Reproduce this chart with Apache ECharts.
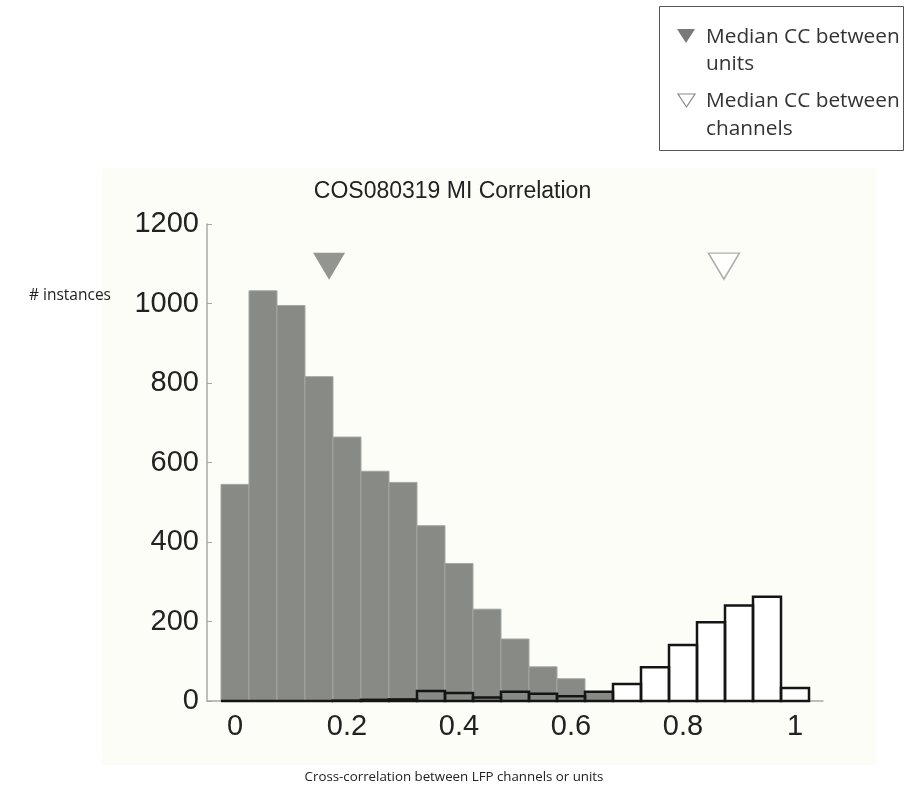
<!DOCTYPE html>
<html><head><meta charset="utf-8">
<script src="https://cdn.jsdelivr.net/npm/echarts@6/dist/echarts.min.js"></script>
<style>html,body{margin:0;padding:0;background:#fff}#c{width:905px;height:800px}</style>
</head><body><div id="c"></div>
<script>
// ---- data ----
const binCenters = [0, 0.05, 0.1, 0.15, 0.2, 0.25, 0.3, 0.35, 0.4, 0.45, 0.5, 0.55, 0.6, 0.65, 0.7, 0.75, 0.8, 0.85, 0.9, 0.95, 1.0];
const unitsCounts = [545, 1032, 995, 816, 664, 578, 550, 441, 346, 231, 156, 86, 56, 23, 0, 0, 0, 0, 0, 0, 0];
const channelsCounts = [0, 0, 0, 0, 1, 3, 4, 25, 20, 9, 23, 18, 12, 23, 43, 85, 141, 198, 240, 262, 33];
const xTickValues = [0, 0.2, 0.4, 0.6, 0.8, 1];
const medianUnits = [0.168, 1094];
const medianChannels = [0.873, 1094];
const binWidth = 0.05;
const titleText = 'COS080319 MI Correlation';
const xLabelText = 'Cross-correlation between LFP channels or units';
const yLabelText = '# instances';
const legendUnits = ['Median CC between', 'units'];
const legendChannels = ['Median CC between', 'channels'];

const unitsData = binCenters.map((x, i) => [x, unitsCounts[i]]);
const channelsData = binCenters.map((x, i) => [x, channelsCounts[i]]);

function binRenderer(fill, stroke, lw, skipZero) {
  return function (params, api) {
    const x = api.value(0), y = api.value(1);
    if (skipZero && y <= 0) return null;
    const p0 = api.coord([x - binWidth / 2, y]);
    const p1 = api.coord([x + binWidth / 2, 0]);
    return {
      type: 'rect',
      shape: { x: p0[0], y: p0[1], width: p1[0] - p0[0], height: p1[1] - p0[1] },
      style: { fill: fill, stroke: stroke, lineWidth: lw }
    };
  };
}

const chart = echarts.init(document.getElementById('c'), null, { renderer: 'canvas' });
const tickFont = 'Liberation Sans, Arial, sans-serif';
const textFont = 'Open Sans, sans-serif';

chart.setOption({
  backgroundColor: '#ffffff',
  animation: false,
  title: {
    text: titleText, left: 'center', top: 175,
    textStyle: { fontFamily: tickFont, fontSize: 23, fontWeight: 'normal', color: '#222' }
  },
  grid: { left: 207, right: 82, top: 224, bottom: 99 },
  xAxis: {
    type: 'value', min: -0.05, max: 1.05,
    axisLine: { show: true, onZero: false, lineStyle: { color: '#a8a8a8', width: 1.5 } },
    axisTick: { show: true, inside: true, length: 5, customValues: xTickValues, lineStyle: { color: '#a8a8a8' } },
    axisLabel: { customValues: xTickValues, fontFamily: tickFont, fontSize: 29, color: '#222', margin: 11,
      formatter: v => String(+v.toFixed(2)) },
    splitLine: { show: false }
  },
  yAxis: {
    type: 'value', min: 0, max: 1200, interval: 200,
    axisLine: { show: true, onZero: false, lineStyle: { color: '#a8a8a8', width: 1.5 } },
    axisTick: { show: true, inside: true, length: 5, lineStyle: { color: '#a8a8a8' } },
    axisLabel: { fontFamily: tickFont, fontSize: 29, color: '#222', margin: 8, formatter: v => String(v) },
    splitLine: { show: false }
  },
  series: [
    { type: 'custom', z: 1, data: channelsData, renderItem: binRenderer('#ffffff', null, 0, true), silent: true },
    { type: 'custom', z: 2, data: unitsData, renderItem: binRenderer('#878a85', '#a4a7a2', 1, true), silent: true },
    { type: 'custom', z: 3, data: channelsData, renderItem: binRenderer(null, '#151515', 2.5, false), silent: true },
    { type: 'scatter', z: 4, data: [medianUnits], symbol: 'triangle', symbolRotate: 180, symbolSize: [32, 27],
      itemStyle: { color: '#777a76' }, silent: true },
    { type: 'scatter', z: 4, data: [medianChannels], symbol: 'triangle', symbolRotate: 180, symbolSize: [31, 26],
      itemStyle: { color: '#ffffff', borderColor: '#9a9a9a', borderWidth: 1.5 }, silent: true }
  ],
  graphic: [
    { type: 'rect', z: -100, shape: { x: 102, y: 168, width: 775, height: 597 }, style: { fill: '#fdfdf8' }, silent: true },
    { type: 'text', x: 111, y: 296, style: { text: yLabelText, font: '15.5px ' + textFont, fill: '#222', textAlign: 'right', textVerticalAlign: 'middle' } },
    { type: 'text', x: 454, y: 777, style: { text: xLabelText, font: '13.3px ' + textFont, fill: '#222', textAlign: 'center', textVerticalAlign: 'middle' } },
    { type: 'rect', z: 50, shape: { x: 659.5, y: 6.5, width: 244, height: 144 }, style: { fill: '#ffffff', stroke: '#555', lineWidth: 1 } },
    { type: 'polygon', z: 51, shape: { points: [[677, 29], [695, 29], [686, 43]] }, style: { fill: '#777a76' } },
    { type: 'text', z: 51, x: 706, y: 37, style: { text: legendUnits[0], font: '20.8px ' + textFont, fill: '#333', textVerticalAlign: 'middle' } },
    { type: 'text', z: 51, x: 706, y: 64, style: { text: legendUnits[1], font: '20.8px ' + textFont, fill: '#333', textVerticalAlign: 'middle' } },
    { type: 'polygon', z: 51, shape: { points: [[678, 94], [695, 94], [686.5, 107]] }, style: { fill: '#fff', stroke: '#888', lineWidth: 1.2 } },
    { type: 'text', z: 51, x: 706, y: 101, style: { text: legendChannels[0], font: '20.8px ' + textFont, fill: '#333', textVerticalAlign: 'middle' } },
    { type: 'text', z: 51, x: 706, y: 129, style: { text: legendChannels[1], font: '20.8px ' + textFont, fill: '#333', textVerticalAlign: 'middle' } }
  ]
});
</script>
</body></html>
